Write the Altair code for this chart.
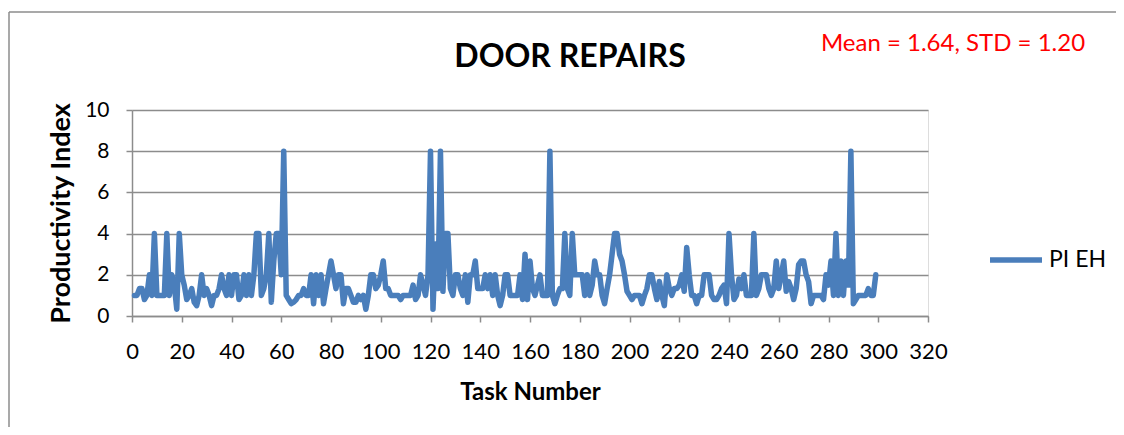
import altair as alt
import pandas as pd

# Productivity index per task (tasks 1..299)
pi_values = [
    1, 1, 1.33, 1.33, 0.8, 1, 2, 1, 4, 1,
    1, 1, 1, 4, 1, 2, 1.5, 0.33, 4, 2,
    1.5, 0.8, 1, 1.33, 0.67, 0.5, 1, 2, 1, 1.33,
    1, 0.5, 1, 1, 1.33, 2, 1.33, 1, 2, 1,
    2, 2, 0.8, 1, 2, 1, 2, 1, 2, 4,
    4, 1, 1.33, 2, 4, 0.67, 2.67, 4, 4, 2,
    8, 1, 0.8, 0.6, 0.67, 0.8, 1, 1, 1.33, 1,
    1, 2, 0.6, 2, 1, 2, 0.6, 1.33, 2, 2.67,
    2, 1.33, 2, 2, 0.6, 1.33, 1.33, 1, 0.67, 0.67,
    1, 0.8, 1, 0.33, 1, 2, 2, 1.33, 1.5, 2,
    2.67, 1.33, 1.33, 1, 1, 1, 1, 0.8, 1, 1,
    1, 1, 1.5, 0.8, 1, 2, 1.5, 1, 2, 8,
    0.33, 3.5, 1.33, 8, 1.2, 4, 4, 1.33, 1, 2,
    2, 1.33, 1, 2, 0.67, 2, 2, 2.67, 1.33, 1.33,
    1.33, 2, 1.33, 2, 1, 2, 1, 0.5, 1, 2,
    2, 1, 1, 1, 1, 2, 0.8, 3, 0.8, 2.67,
    1.33, 1, 1.5, 2, 1, 1, 1, 8, 1, 0.6,
    1, 1.33, 1.33, 4, 1.33, 1, 4, 2, 2, 2,
    2, 1, 2, 1, 1.5, 2.67, 2, 2, 1, 0.6,
    1.33, 2, 3, 4, 4, 3, 2.67, 2, 1.2, 1,
    0.8, 1, 1, 1, 0.6, 1, 1.33, 2, 2, 1.33,
    0.8, 1.67, 1, 0.5, 2, 1.33, 1, 1.33, 1.33, 1.5,
    2, 1.2, 3.33, 2, 1, 1, 0.6, 1, 1, 2,
    2, 2, 1, 0.8, 0.8, 1, 1.33, 1.5, 0.6, 4,
    2, 0.8, 1, 1.8, 1.33, 2, 1, 1, 1, 4,
    1, 1.33, 2, 2, 2, 1.33, 1, 1.33, 2.67, 1.33,
    2, 2.67, 1.2, 1.67, 1.33, 0.8, 1.33, 2.5, 2.67, 2.67,
    2, 1.67, 0.6, 1, 1, 1, 1, 0.8, 2, 1.5,
    2.67, 1, 4, 1, 2.67, 1, 2.67, 1.5, 8, 0.6,
    0.8, 1, 1, 1, 1, 1.33, 1, 1, 2,
]
task_numbers = list(range(1, len(pi_values) + 1))
series_name = "PI EH"
x_ticks = list(range(0, 321, 20))
y_ticks = [0, 2, 4, 6, 8, 10]
chart_title = "DOOR REPAIRS"
stats_note = "Mean = 1.64, STD = 1.20"

df = pd.DataFrame({"task": task_numbers, "pi": pi_values, "series": series_name})

FONT = "Lato"
GRAY = "#8c8c8c"
BLUE = "#4a7ebb"

line = alt.Chart(df).mark_line(strokeWidth=5.5, strokeJoin="round", strokeCap="round").encode(
    x=alt.X("task:Q",
            scale=alt.Scale(domain=[0, 320], nice=False, zero=True),
            axis=alt.Axis(values=x_ticks, title="Task Number", grid=False,
                          domainColor=GRAY, domainWidth=1.5, tickColor=GRAY, tickWidth=1.5, tickSize=6,
                          labelFont=FONT, labelFontSize=22, labelColor="black", labelPadding=19,
                          titleFont=FONT, titleFontSize=24, titleFontWeight="bold", titleColor="black",
                          titlePadding=18, labelFlush=False)),
    y=alt.Y("pi:Q",
            scale=alt.Scale(domain=[0, 10], nice=False),
            axis=alt.Axis(values=y_ticks, title="Productivity Index", grid=True,
                          gridColor=GRAY, gridWidth=1.5,
                          domainColor=GRAY, domainWidth=1.5, tickColor=GRAY, tickWidth=1.5, tickSize=6,
                          labelFont=FONT, labelFontSize=21, labelColor="black", labelPadding=17,
                          titleFont=FONT, titleFontSize=27, titleFontWeight="bold", titleColor="black",
                          titlePadding=9)),
    color=alt.Color("series:N", scale=alt.Scale(range=[BLUE]),
                    legend=alt.Legend(title=None, orient="none", legendX=855, legendY=121,
                                      symbolType="stroke", symbolSize=2704, symbolStrokeWidth=5.5,
                                      labelFont=FONT, labelFontSize=23, labelColor="black",
                                      labelOffset=4, padding=0)),
)

title_txt = alt.Chart(pd.DataFrame({"t": [chart_title]})).mark_text(
    font=FONT, fontSize=32, fontWeight="bold", color="black", align="center", baseline="middle"
).encode(x=alt.value(438), y=alt.value(-53), text="t:N")

note_txt = alt.Chart(pd.DataFrame({"t": [stats_note]})).mark_text(
    font=FONT, fontSize=24, color="#ff0000", align="center", baseline="middle"
).encode(x=alt.value(821), y=alt.value(-66), text="t:N")

frame_left = alt.Chart(pd.DataFrame({"a": [0]})).mark_rule(color=GRAY, strokeWidth=1.5).encode(
    x=alt.value(-123), y=alt.value(-98), y2=alt.value(330))
frame_top = alt.Chart(pd.DataFrame({"a": [0]})).mark_rule(color=GRAY, strokeWidth=1.5).encode(
    x=alt.value(-123), x2=alt.value(995), y=alt.value(-98))

chart = alt.layer(frame_left, frame_top, line, title_txt, note_txt).properties(
    width=796, height=206,
    autosize=alt.AutoSizeParams(type="none"),
    padding={"left": 124, "top": 102, "right": 188, "bottom": 111},
).configure_view(stroke=None).configure(background="white")

chart.save("out.html", embed_options={"renderer": "svg", "actions": False})
